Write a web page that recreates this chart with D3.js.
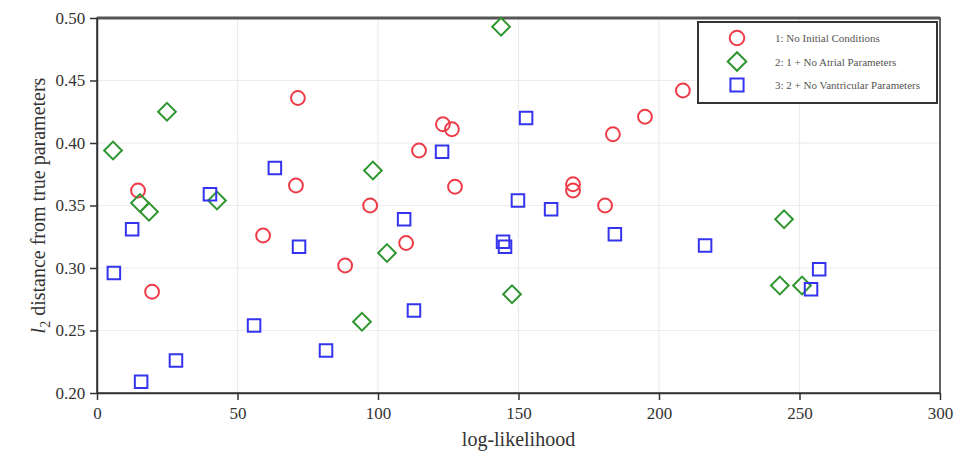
<!DOCTYPE html>
<html>
<head>
<meta charset="utf-8">
<script src="https://cdn.jsdelivr.net/npm/d3@7"></script>
<style>
  body { margin: 0; background: #fff; }
  svg, svg text { font-family: "Liberation Serif", "DejaVu Serif", serif; }
</style>
</head>
<body>
<svg id="visu" width="965" height="458"></svg>
<script>
// series 1: No Initial Conditions
var noInitX = [14.6, 19.6, 71.5, 59.1, 70.8, 88.3, 97.2, 110, 114.6, 123.1, 126.3, 127.4, 169.4, 169.4, 180.8, 183.6, 195, 208.5];
var noInitY = [0.362, 0.281, 0.436, 0.326, 0.366, 0.302, 0.350, 0.320, 0.394, 0.415, 0.411, 0.365, 0.367, 0.362, 0.350, 0.407, 0.421, 0.442];

// series 2: 1 + No Atrial Parameters
var noAtrialX = [5.7, 24.9, 15.3, 18.5, 42.7, 98.2, 103.2, 94.3, 143.8, 147.7, 244.5, 243, 250.9];
var noAtrialY = [0.394, 0.425, 0.352, 0.345, 0.354, 0.378, 0.312, 0.257, 0.493, 0.279, 0.339, 0.286, 0.286];

// series 3: 2 + No Vantricular Parameters
var noVentX = [6.0, 12.5, 15.7, 28.1, 40.2, 55.9, 63.3, 71.9, 81.5, 109.3, 112.8, 122.8, 144.5, 145.2, 149.8, 152.7, 161.6, 184.3, 216.4, 254.1, 257];
var noVentY = [0.296, 0.331, 0.209, 0.226, 0.359, 0.254, 0.380, 0.317, 0.234, 0.339, 0.266, 0.393, 0.321, 0.317, 0.354, 0.420, 0.347, 0.327, 0.318, 0.283, 0.299];

var seriesNames = ["1: No Initial Conditions", "2: 1 + No Atrial Parameters", "3: 2 + No Vantricular Parameters"];
var xTicks = [0, 50, 100, 150, 200, 250, 300];
var yTicks = [0.20, 0.25, 0.30, 0.35, 0.40, 0.45, 0.50];

var vis = d3.select("#visu"),
    MARGINS = { top: 18, right: 25, bottom: 65, left: 97 },
    WIDTH = 965,
    HEIGHT = 458;

var xScale = d3.scaleLinear().domain([0, 300]).range([MARGINS.left, WIDTH - MARGINS.right]);
var yScale = d3.scaleLinear().domain([0.20, 0.50]).range([HEIGHT - MARGINS.bottom, MARGINS.top]);

var colors = ["#ee3b48", "#2f952f", "#3434ee"];

// grid
vis.append("g").selectAll("line").data(xTicks).join("line")
  .attr("x1", d => xScale(d)).attr("x2", d => xScale(d))
  .attr("y1", yScale(0.2)).attr("y2", yScale(0.5))
  .attr("stroke", "#ececec").attr("stroke-width", 1.2);
vis.append("g").selectAll("line").data(yTicks).join("line")
  .attr("y1", d => yScale(d)).attr("y2", d => yScale(d))
  .attr("x1", xScale(0)).attr("x2", xScale(300))
  .attr("stroke", "#ececec").attr("stroke-width", 1.2);

// frame
vis.append("rect")
  .attr("x", xScale(0)).attr("y", yScale(0.5))
  .attr("width", xScale(300) - xScale(0)).attr("height", yScale(0.2) - yScale(0.5))
  .attr("fill", "none").attr("stroke", "#333").attr("stroke-width", 1.5);
vis.append("line")
  .attr("x1", xScale(0)).attr("x2", xScale(300))
  .attr("y1", yScale(0.5)).attr("y2", yScale(0.5))
  .attr("stroke", "#555").attr("stroke-width", 3);

var xAxis = d3.axisBottom(xScale).tickValues(xTicks).tickFormat(d3.format("d")).tickSize(7).tickSizeOuter(0);
var yAxis = d3.axisLeft(yScale).tickValues(yTicks).tickFormat(d3.format(".2f")).tickSize(7).tickSizeOuter(0);

var gx = vis.append("g").attr("transform", "translate(0," + yScale(0.2) + ")").call(xAxis);
var gy = vis.append("g").attr("transform", "translate(" + xScale(0) + ",0)").call(yAxis);
[gx, gy].forEach(function(g) {
  g.attr("font-family", "Liberation Serif").attr("font-size", 17);
  g.select(".domain").attr("stroke", "#333").attr("stroke-width", 1.5);
  g.selectAll(".tick line").attr("stroke", "#333").attr("stroke-width", 1.5);
  g.selectAll(".tick text").attr("fill", "#333");
});
gx.selectAll(".tick text").attr("dy", "0.95em");
gy.selectAll(".tick text").attr("dx", "-0.1em");

// axis titles
vis.append("text")
  .attr("x", (xScale(0) + xScale(300)) / 2).attr("y", 446)
  .attr("text-anchor", "middle").attr("font-size", 20).attr("fill", "#333")
  .text("log-likelihood");
var yt = vis.append("text")
  .attr("transform", "translate(45," + ((yScale(0.2) + yScale(0.5)) / 2) + ") rotate(-90)")
  .attr("text-anchor", "middle").attr("font-size", 20).attr("fill", "#333");
yt.append("tspan").attr("font-style", "italic").text("l");
yt.append("tspan").attr("font-size", 14).attr("dy", 5).text("2");
yt.append("tspan").attr("dy", -5).text(" distance from true parameters");

// markers
var sym = [d3.symbolCircle, d3.symbolDiamond2, d3.symbolSquare2];
var symSize = [150, 200, 200];
var sets = [[noInitX, noInitY], [noAtrialX, noAtrialY], [noVentX, noVentY]];
sets.forEach(function(s, i) {
  var pts = s[0].map(function(x, j) { return [x, s[1][j]]; });
  vis.append("g").selectAll("path").data(pts).join("path")
    .attr("transform", d => "translate(" + xScale(d[0]) + "," + yScale(d[1]) + ")")
    .attr("d", d3.symbol().type(sym[i]).size(symSize[i]))
    .attr("fill", "none").attr("stroke", colors[i]).attr("stroke-width", 2);
});

// legend
var leg = vis.append("g").attr("transform", "translate(698,22)");
leg.append("rect").attr("width", 239).attr("height", 81)
  .attr("fill", "#fff").attr("stroke", "#333").attr("stroke-width", 2);
seriesNames.forEach(function(name, i) {
  var yy = 16 + i * 23.5;
  leg.append("path")
    .attr("transform", "translate(39," + yy + ")")
    .attr("d", d3.symbol().type(sym[i]).size(symSize[i] * 1.1))
    .attr("fill", "none").attr("stroke", colors[i]).attr("stroke-width", 2);
  leg.append("text").attr("x", 77).attr("y", yy + 4)
    .attr("font-size", 11).attr("fill", "#555").text(name);
});
</script>
</body>
</html>
